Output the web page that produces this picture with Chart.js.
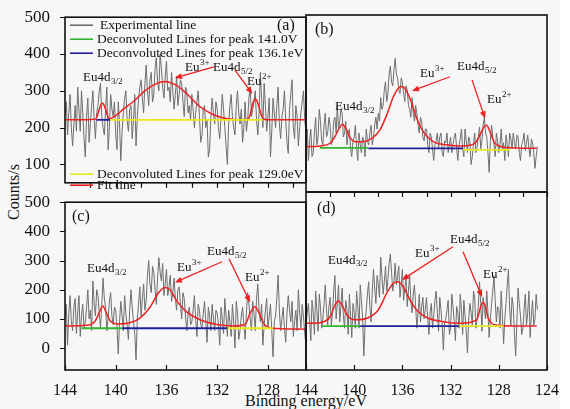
<!DOCTYPE html>
<html>
<head>
<meta charset="utf-8">
<script src="https://cdn.jsdelivr.net/npm/chart.js@4.4.1/dist/chart.umd.min.js"></script>
<style>
  html, body { margin: 0; padding: 0; }
  body { width: 570px; height: 409px; position: relative; overflow: hidden; background: #f7f7f7;
         font-family: "Liberation Serif", "Times New Roman", serif; color: #111; }
  canvas { position: absolute; }
  #edge { position: absolute; left: 560px; top: 0; width: 10px; height: 409px; background: #fff; }
  #ytitle { position: absolute; left: 14px; top: 192px; transform: translate(-50%, -50%) rotate(-90deg);
            font-size: 16px; white-space: nowrap; }
  #xtitle { position: absolute; left: 306px; top: 401px; transform: translate(-50%, -50%);
            font-size: 16px; white-space: nowrap; }
</style>
</head>
<body>
<div id="edge"></div>
<div id="ytitle">Counts/s</div>
<div id="xtitle">Binding energy/eV</div>
<script>
// Binding-energy grid of the measured spectra (eV)
const energy = [
  144,143.9,143.8,143.7,143.6,143.5,143.4,143.3,143.2,143.1,
  143,142.9,142.8,142.7,142.6,142.5,142.4,142.3,142.2,142.1,
  142,141.9,141.8,141.7,141.6,141.5,141.4,141.3,141.2,141.1,
  141,140.9,140.8,140.7,140.6,140.5,140.4,140.3,140.2,140.1,
  140,139.9,139.8,139.7,139.6,139.5,139.4,139.3,139.2,139.1,
  139,138.9,138.8,138.7,138.6,138.5,138.4,138.3,138.2,138.1,
  138,137.9,137.8,137.7,137.6,137.5,137.4,137.3,137.2,137.1,
  137,136.9,136.8,136.7,136.6,136.5,136.4,136.3,136.2,136.1,
  136,135.9,135.8,135.7,135.6,135.5,135.4,135.3,135.2,135.1,
  135,134.9,134.8,134.7,134.6,134.5,134.4,134.3,134.2,134.1,
  134,133.9,133.8,133.7,133.6,133.5,133.4,133.3,133.2,133.1,
  133,132.9,132.8,132.7,132.6,132.5,132.4,132.3,132.2,132.1,
  132,131.9,131.8,131.7,131.6,131.5,131.4,131.3,131.2,131.1,
  131,130.9,130.8,130.7,130.6,130.5,130.4,130.3,130.2,130.1,
  130,129.9,129.8,129.7,129.6,129.5,129.4,129.3,129.2,129.1,
  129,128.9,128.8,128.7,128.6,128.5,128.4,128.3,128.2,128.1,
  128,127.9,127.8,127.7,127.6,127.5,127.4,127.3,127.2,127.1,
  127,126.9,126.8,126.7,126.6,126.5,126.4,126.3,126.2,126.1,
  126,125.9,125.8,125.7,125.6,125.5,125.4,125.3,125.2,125.1,
  125,124.9,124.8
];

// Measured counts, samples (a)-(d)
const expA = [
  230,270,180,240,290,200,150,210,260,190,310,250,190,300,240,170,120,230,280,160,
  210,260,300,220,170,240,260,300,320,230,200,180,250,310,140,200,290,250,230,270,
  180,140,270,210,110,190,240,280,300,220,190,250,260,170,220,290,150,230,280,310,
  330,280,240,320,370,300,260,330,350,270,290,360,390,320,300,400,360,310,280,340,
  380,300,310,270,350,300,250,290,340,260,290,330,320,270,230,310,300,240,260,220,
  290,250,200,240,270,300,230,160,180,250,260,200,220,120,140,230,280,240,210,270,
  250,200,170,230,290,250,200,150,100,210,260,290,230,200,180,260,300,240,210,250,
  160,200,270,190,220,280,310,230,250,270,300,220,180,240,350,280,200,320,260,190,
  230,280,120,190,280,240,200,260,310,210,170,230,250,300,220,160,130,250,290,330,
  200,170,260,230,150,200,240,270,300,220,190,260,230
];
const expB = [
  170,210,130,180,210,140,150,200,240,170,190,260,230,180,170,220,250,190,200,240,
  220,170,180,230,240,200,270,210,230,260,250,190,200,230,170,200,210,160,140,180,
  190,220,160,130,200,170,150,190,180,140,210,180,170,200,220,170,190,220,240,210,
  250,230,290,260,270,310,330,280,300,350,370,330,320,360,390,350,340,310,300,340,
  330,300,280,320,310,270,260,240,290,250,230,270,250,220,200,240,230,190,180,210,
  210,170,150,200,190,160,130,170,180,200,160,190,200,150,140,180,175,200,150,170,
  190,150,170,190,200,160,130,170,185,210,160,140,210,180,150,190,180,120,140,170,
  200,150,165,190,215,160,180,220,240,200,190,150,100,180,220,190,170,140,200,180,
  150,170,210,160,175,130,195,170,140,200,185,160,200,175,160,195,190,150,130,170,
  180,200,155,175,195,160,140,185,175,150,110,140,165
];
const expC = [
  100,150,10,120,180,90,60,140,170,50,120,180,40,110,150,70,90,140,200,100,
  130,60,230,150,110,200,180,120,70,150,240,170,140,60,100,160,190,110,80,140,
  130,70,-20,90,160,110,60,180,120,80,30,130,200,140,90,50,-40,100,150,210,
  110,170,220,130,160,250,300,220,190,280,260,200,150,240,310,260,230,290,180,220,
  270,180,210,250,160,190,240,170,130,200,210,150,100,190,170,110,60,120,140,80,
  90,130,180,100,40,150,130,80,70,120,160,90,20,140,110,60,150,100,60,130,
  120,80,10,140,100,50,170,110,40,130,90,40,150,90,0,160,120,30,60,110,
  140,80,30,120,190,150,100,60,160,120,60,170,220,130,90,150,10,80,130,170,
  70,110,150,60,-30,90,110,170,250,130,60,100,140,70,20,120,180,130,90,160,
  40,90,130,60,200,120,70,150,110,50,10,110,80
];
const expD = [
  60,110,140,80,20,150,110,40,180,120,50,170,130,60,90,140,200,120,70,130,
  160,70,110,180,230,90,140,200,80,130,190,100,60,150,120,40,170,100,30,140,
  110,60,180,130,60,200,150,90,-30,70,120,170,210,130,80,180,250,190,140,230,
  200,160,290,230,170,210,260,180,220,270,300,240,180,210,270,200,230,260,160,200,
  250,150,190,220,130,180,230,150,110,170,200,130,60,110,170,80,130,160,90,120,
  160,90,40,110,140,60,100,150,180,110,50,160,120,70,-10,80,90,120,150,40,
  60,170,130,80,20,130,110,60,170,120,40,150,100,50,-20,90,140,110,70,180,
  160,60,90,130,210,140,50,160,120,90,180,110,30,90,140,180,230,150,80,130,
  120,60,180,100,10,90,140,200,250,120,70,160,130,40,-30,80,190,140,100,40,
  60,120,170,70,110,180,30,100,150,70,90,170,120
];

// Fitted envelopes (energy, counts)
const fitEA = [144,142.5,142,141.6,141.45,141.3,141.15,141.05,140.95,140.8,140.65,140.5,140.2,139.8,139.4,138.6,137.8,137.0,136.5,136.1,135.7,135.2,134.4,133.4,132.3,131.3,130.2,129.6,129.4,129.25,129.1,129.0,128.85,128.7,128.55,128.4,128,125];
const fitYA = [221,221,222,223,232,250,263,266,263,250,232,224,228,238,250,271,297,316,323,325,322,315,292,258,235,225,221,223,235,258,274,278,272,255,236,225,221,221];
const fitEB = [144.1,142.84,142.0,141.6,141.24,140.99,140.7,140.4,139.93,139.24,138.55,137.86,137.3,136.75,136.34,136.06,135.7,135.23,134.81,134.26,133.43,132.32,130.95,129.98,129.56,129.23,129.0,128.73,128.32,127.34,124.85];
const fitYB = [165,167,174,191,212,222,212,191,178,178,186,208,246,292,314,318,309,276,237,203,178,170,167,174,195,216,220,203,174,163,161];
const fitEC = [144,142.29,141.63,141.24,141.03,140.77,140.45,139.8,138.88,138.09,137.3,136.64,136.12,135.72,135.19,134.41,133.36,132.04,130.73,129.81,129.36,129.02,128.68,128.23,127.31,125];
const fitYC = [76,78,92,128,144,124,94,83,87,103,140,189,208,200,162,124,97,81,76,81,124,142,119,78,67,65];
const fitED = [144.1,142.84,142.0,141.59,141.32,140.96,140.49,139.79,138.96,138.0,137.3,136.75,136.42,135.93,135.37,134.68,133.85,132.6,131.22,129.83,129.5,129.34,129.15,128.87,128.17,126.8,124.85];
const fitYD = [76,78,97,135,148,130,97,87,92,119,173,205,210,194,151,113,92,81,76,87,130,144,135,92,70,67,67];

// Deconvoluted background segments: limits (eV) and levels for 141.0 / 136.1 / 129.0 eV components
const splitA = [141.5, 141.5, 140.45, 128.4];   const levelA = [221, 221, 221];
const splitB = [142.84, 138.83, 130.97, 127.07]; const levelB = [162, 161, 157];
const splitC = [142.7, 139.5, 131.2, 127.6];    const levelC = [68, 68, 68];
const splitD = [142.7, 139.5, 131.3, 127.6];    const levelD = [67, 67, 67];

// Axis ticks
const xLabelsLeft = [144, 140, 136, 132, 128];
const xLabelsRight = [144, 140, 136, 132, 128, 124];
const xMinorMarks = [142, 140, 138, 136, 134, 132, 130, 128, 126, 124];
const yTicksTop = [100, 200, 300, 400, 500];
const yTicksBottom = [0, 100, 200, 300, 400, 500];

// Peak labels: [text, script, isSub, energy, counts] and arrows: [fromE, fromC, toE, toC]
const notesA = [['Eu4d','3/2',true,142.58,337],['Eu','3+',false,134.54,363],['Eu4d','5/2',true,132.33,363],['Eu','2+',false,129.65,325]];
const arrowsA = [[132.25,365,135.33,335],[130.6,356,129.23,292]];
const notesB = [['Eu4d','3/2',true,141.59,266],['Eu','3+',false,134.54,352],['Eu4d','5/2',true,131.47,368],['Eu','2+',false,128.98,284]];
const arrowsB = [[132.05,343,135.2,307],[130.22,335,129.14,237]];
const notesC = [['Eu4d','3/2',true,142.27,271],['Eu','3+',false,135.17,275],['Eu4d','5/2',true,132.8,332],['Eu','2+',false,129.81,240]];
const arrowsC = [[131.62,296,135.33,225],[131.07,306,129.41,157]];
const notesD = [['Eu4d','3/2',true,142.17,280],['Eu','3+',false,134.95,301],['Eu4d','5/2',true,132.05,345],['Eu','2+',false,129.31,233]];
const arrowsD = [[131.8,323,136.03,216],[130.97,307,129.39,161]];

const COLORS = { exp: '#6e6e6e', fit: '#ee2020', green: '#30b530', blue: '#20209a', yellow: '#e8e81e', ink: '#111' };
const SERIF = '"Liberation Serif", "Times New Roman", serif';

const legendItems = [
  { text: 'Experimental line', color: COLORS.exp, dy: 8, tx: 35 },
  { text: 'Deconvoluted Lines for peak 141.0V', color: COLORS.green, dy: 22, tx: 32 },
  { text: 'Deconvoluted Lines for peak 136.1eV', color: COLORS.blue, dy: 36, tx: 32 },
  { text: 'Deconvoluted Lines for peak 129.0eV', color: COLORS.yellow, dy: 157, tx: 32 },
  { text: 'Fit line', color: COLORS.fit, dy: 168, tx: 32 }
];

Chart.defaults.font.family = SERIF;
Chart.defaults.color = COLORS.ink;

// Frame, tick marks, annotations and legend drawn on top of the data
const panelDecor = {
  id: 'panelDecor',
  afterDatasetsDraw(chart, args, o) {
    const { ctx, chartArea: a } = chart;
    const x = chart.scales.x, y = chart.scales.y;
    ctx.save();
    ctx.strokeStyle = COLORS.ink;
    ctx.lineWidth = 1.2;
    ctx.beginPath();
    for (const v of o.xMarks) {
      if (v < x.min || v > x.max) continue;
      const px = Math.round(x.getPixelForValue(v)) + 0.5;
      ctx.moveTo(px, a.bottom);
      ctx.lineTo(px, a.bottom + o.xMarkDir * 5);
    }
    for (const v of o.yMarks) {
      const py = Math.round(y.getPixelForValue(v)) + 0.5;
      ctx.moveTo(a.left, py);
      ctx.lineTo(a.left - 5, py);
    }
    ctx.stroke();
    ctx.lineWidth = 1.6;
    ctx.strokeRect(a.left, a.top, a.right - a.left, a.bottom - a.top);

    // panel tag
    ctx.fillStyle = COLORS.ink;
    ctx.font = '16px ' + SERIF;
    ctx.textBaseline = 'middle';
    ctx.textAlign = 'left';
    ctx.fillText(o.tag, a.left + o.tagX, a.top + o.tagY);

    // peak labels
    for (const [t, s, isSub, e, c] of o.notes) {
      const px = x.getPixelForValue(e), py = y.getPixelForValue(c);
      ctx.font = '13px ' + SERIF;
      ctx.fillText(t, px, py);
      const w = ctx.measureText(t).width;
      ctx.font = '9px ' + SERIF;
      ctx.fillText(s, px + w + 0.5, py + (isSub ? 4 : -5));
    }

    // arrows
    ctx.strokeStyle = COLORS.fit;
    ctx.fillStyle = COLORS.fit;
    ctx.lineWidth = 1.3;
    for (const [e0, c0, e1, c1] of o.arrows) {
      const x0 = x.getPixelForValue(e0), y0 = y.getPixelForValue(c0);
      const x1 = x.getPixelForValue(e1), y1 = y.getPixelForValue(c1);
      const ang = Math.atan2(y1 - y0, x1 - x0);
      const hl = 7, hw = 3;
      ctx.beginPath();
      ctx.moveTo(x0, y0);
      ctx.lineTo(x1 - Math.cos(ang) * hl * 0.8, y1 - Math.sin(ang) * hl * 0.8);
      ctx.stroke();
      ctx.beginPath();
      ctx.moveTo(x1, y1);
      ctx.lineTo(x1 - Math.cos(ang) * hl - Math.sin(ang) * hw, y1 - Math.sin(ang) * hl + Math.cos(ang) * hw);
      ctx.lineTo(x1 - Math.cos(ang) * hl + Math.sin(ang) * hw, y1 - Math.sin(ang) * hl - Math.cos(ang) * hw);
      ctx.closePath();
      ctx.fill();
    }

    // legend
    if (o.legend) {
      ctx.font = '13.5px ' + SERIF;
      ctx.lineWidth = 1.6;
      for (const it of legendItems) {
        const ly = a.top + it.dy;
        ctx.strokeStyle = it.color;
        ctx.beginPath();
        ctx.moveTo(a.left + 5, ly);
        ctx.lineTo(a.left + 28, ly);
        ctx.stroke();
        ctx.fillStyle = COLORS.ink;
        ctx.fillText(it.text, a.left + it.tx, ly + 0.5);
      }
    }
    ctx.restore();
  }
};

function pairs(xs, ys) { return xs.map((v, i) => ({ x: v, y: ys[i] })); }

function makePanel(p) {
  const cv = document.createElement('canvas');
  cv.width = p.w; cv.height = p.h;
  cv.style.left = p.left + 'px'; cv.style.top = p.top + 'px';
  cv.style.width = p.w + 'px'; cv.style.height = p.h + 'px';
  document.body.appendChild(cv);

  const segColors = [COLORS.green, COLORS.blue, COLORS.yellow];
  const segNames = ['141.0 eV', '136.1 eV', '129.0 eV'];
  const segs = segColors.map((col, k) => ({
    label: segNames[k],
    data: [{ x: p.split[k], y: p.level[k] }, { x: p.split[k + 1], y: p.level[k] }],
    borderColor: col, borderWidth: 1.8, pointRadius: 0, order: 1
  }));

  const datasets = [
    { label: 'Experimental line', data: pairs(energy, p.exp), borderColor: COLORS.exp,
      borderWidth: 1.0, pointRadius: 0, order: 3 },
    { label: 'Fit line', data: pairs(p.fitE, p.fitY), borderColor: COLORS.fit,
      borderWidth: 1.5, pointRadius: 0, cubicInterpolationMode: 'monotone', order: 2 },
    ...segs
  ];

  new Chart(cv, {
    type: 'line',
    data: { datasets },
    plugins: [panelDecor],
    options: {
      responsive: false,
      animation: false,
      devicePixelRatio: 1,
      events: [],
      layout: { padding: p.pad, autoPadding: false },
      plugins: {
        legend: { display: false },
        tooltip: { enabled: false },
        panelDecor: {
          tag: p.tag, tagX: p.tagX, tagY: p.tagY, notes: p.notes, arrows: p.arrows,
          xMarks: p.xMarks, xMarkDir: p.xMarkDir, yMarks: p.showY ? p.yTicks : [], legend: !!p.legend
        }
      },
      scales: {
        x: {
          type: 'linear', reverse: true, min: p.xMin, max: 144, display: p.showX,
          afterBuildTicks: s => { s.ticks = p.xLabels.map(v => ({ value: v })); },
          afterFit: s => { s.height = p.showX ? 30 : 0; },
          ticks: { font: { size: 16, family: SERIF }, color: COLORS.ink, padding: 3, maxRotation: 0, autoSkip: false },
          grid: { display: false }, border: { display: false }
        },
        y: {
          type: 'linear', min: p.yMin, max: 500, display: p.showY,
          afterBuildTicks: s => { s.ticks = p.yTicks.map(v => ({ value: v })); },
          afterFit: s => { s.width = p.showY ? 65 : 0; },
          ticks: { font: { size: 17, family: SERIF }, color: COLORS.ink, padding: 7 },
          grid: { display: false }, border: { display: false }
        }
      }
    }
  });
}

makePanel({ left: 0, top: 0, w: 320, h: 200, pad: { left: 0, top: 15, right: 14, bottom: 8 },
  xMin: 125, yMin: 50, showX: false, showY: true, xLabels: xLabelsLeft, yTicks: yTicksTop,
  xMarks: xMinorMarks, xMarkDir: 1, exp: expA, fitE: fitEA, fitY: fitYA, split: splitA, level: levelA,
  notes: notesA, arrows: arrowsA, tag: '(a)', tagX: 212, tagY: 9, legend: true });

makePanel({ left: 280, top: 0, w: 290, h: 200, pad: { left: 26, top: 15, right: 23, bottom: 8 },
  xMin: 124, yMin: 50, showX: false, showY: false, xLabels: xLabelsRight, yTicks: yTicksTop,
  xMarks: xMinorMarks, xMarkDir: 1, exp: expB, fitE: fitEB, fitY: fitYB, split: splitB, level: levelB,
  notes: notesB, arrows: arrowsB, tag: '(b)', tagX: 9, tagY: 15 });

makePanel({ left: 0, top: 185, w: 320, h: 224, pad: { left: 0, top: 7, right: 14, bottom: 9 },
  xMin: 125, yMin: -75, showX: true, showY: true, xLabels: xLabelsLeft, yTicks: yTicksBottom,
  xMarks: xLabelsLeft, xMarkDir: -1, exp: expC, fitE: fitEC, fitY: fitYC, split: splitC, level: levelC,
  notes: notesC, arrows: arrowsC, tag: '(c)', tagX: 7, tagY: 15 });

makePanel({ left: 280, top: 185, w: 290, h: 224, pad: { left: 26, top: 7, right: 23, bottom: 9 },
  xMin: 124, yMin: -75, showX: true, showY: false, xLabels: xLabelsRight, yTicks: yTicksBottom,
  xMarks: xLabelsRight, xMarkDir: -1, exp: expD, fitE: fitED, fitY: fitYD, split: splitD, level: levelD,
  notes: notesD, arrows: arrowsD, tag: '(d)', tagX: 11, tagY: 17 });
</script>
</body>
</html>
